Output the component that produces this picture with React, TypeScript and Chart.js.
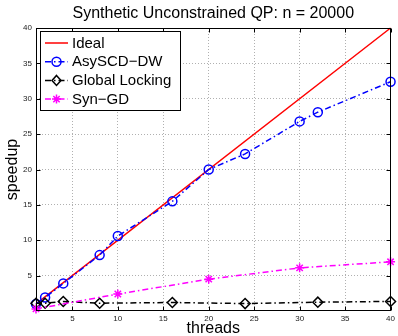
import React, { useEffect, useRef } from 'react';
import { Chart, registerables } from 'chart.js';

Chart.register(...registerables);

const titleText = 'Synthetic Unconstrained QP: n = 20000';
const xLabel = 'threads';
const yLabel = 'speedup';
const seriesNames = ['Ideal', 'AsySCD\u2212DW', 'Global Locking', 'Syn\u2212GD'];

const threadsIdeal = [1, 40];
const speedupIdeal = [1, 40];

const threadsAsy = [1, 2, 4, 8, 10, 16, 20, 24, 30, 32, 40];
const speedupAsy = [1.0, 1.9, 3.9, 7.9, 10.6, 15.5, 20.0, 22.2, 26.8, 28.1, 32.4];

const threadsLock = [1, 2, 4, 8, 16, 24, 32, 40];
const speedupLock = [1.1, 1.1, 1.35, 1.1, 1.2, 1.05, 1.25, 1.35];

const threadsSyn = [1, 10, 20, 30, 40];
const speedupSyn = [0.3, 2.4, 4.5, 6.1, 6.95];

const xTicks = [5, 10, 15, 20, 25, 30, 35, 40];
const yTicks = [5, 10, 15, 20, 25, 30, 35, 40];

const FONT = '"Liberation Sans", Arial, Helvetica, sans-serif';
const DASHDOT = [6, 3, 1.5, 3];

const zip = (xs: number[], ys: number[]) => xs.map((x, i) => ({ x, y: ys[i] }));

type Sty = { color: string; dash: number[]; marker: string };
const styles: Sty[] = [
  { color: '#ff0000', dash: [], marker: 'none' },
  { color: '#0000ff', dash: DASHDOT, marker: 'circle' },
  { color: '#000000', dash: DASHDOT, marker: 'diamond' },
  { color: '#ff00ff', dash: DASHDOT, marker: 'star' },
];

function drawMarker(ctx: CanvasRenderingContext2D, kind: string, x: number, y: number, color: string) {
  ctx.save();
  ctx.setLineDash([]);
  ctx.strokeStyle = color;
  ctx.lineWidth = 1.5;
  ctx.beginPath();
  if (kind === 'circle') {
    ctx.arc(x, y, 4.5, 0, Math.PI * 2);
  } else if (kind === 'diamond') {
    ctx.moveTo(x, y - 5);
    ctx.lineTo(x + 4.5, y);
    ctx.lineTo(x, y + 5);
    ctx.lineTo(x - 4.5, y);
    ctx.closePath();
  } else if (kind === 'star') {
    const r = 4.5;
    for (let k = 0; k < 4; k++) {
      const a = (k * Math.PI) / 4;
      ctx.moveTo(x - r * Math.cos(a), y - r * Math.sin(a));
      ctx.lineTo(x + r * Math.cos(a), y + r * Math.sin(a));
    }
  }
  if (kind !== 'none') ctx.stroke();
  ctx.restore();
}

const decorPlugin = {
  id: 'decor',
  afterDraw(chart: any) {
    const ctx: CanvasRenderingContext2D = chart.ctx;
    const { left, right, top, bottom } = chart.chartArea;
    const xs = chart.scales.x;
    const ys = chart.scales.y;
    ctx.save();
    ctx.strokeStyle = '#000';
    ctx.lineWidth = 1;
    ctx.setLineDash([]);
    const L = Math.round(left) + 0.5;
    const R = Math.round(right) - 0.5;
    const T = Math.round(top) + 0.5;
    const B = Math.round(bottom) - 0.5;
    ctx.strokeRect(L, T, R - L, B - T);
    ctx.beginPath();
    xTicks.forEach((v) => {
      const px = Math.round(xs.getPixelForValue(v)) + 0.5;
      ctx.moveTo(px, B);
      ctx.lineTo(px, B - 4);
      ctx.moveTo(px, T);
      ctx.lineTo(px, T + 4);
    });
    yTicks.forEach((v) => {
      const py = Math.round(ys.getPixelForValue(v)) + 0.5;
      ctx.moveTo(L, py);
      ctx.lineTo(L + 4, py);
      ctx.moveTo(R, py);
      ctx.lineTo(R - 4, py);
    });
    ctx.stroke();

    ctx.fillStyle = '#000';
    ctx.font = `16px ${FONT}`;
    ctx.textAlign = 'center';
    ctx.textBaseline = 'middle';
    ctx.fillText(titleText, (left + right) / 2, 14);

    ctx.fillText(xLabel, (left + right) / 2, 329);
    ctx.save();
    ctx.translate(13, (top + bottom) / 2);
    ctx.rotate(-Math.PI / 2);
    ctx.fillText(yLabel, 0, 0);
    ctx.restore();

    const lx = 40.5, ly = 31.5, lw = 140, lh = 79;
    ctx.fillStyle = '#fff';
    ctx.fillRect(lx, ly, lw, lh);
    ctx.strokeStyle = '#000';
    ctx.lineWidth = 1;
    ctx.strokeRect(lx, ly, lw, lh);
    ctx.font = `15px ${FONT}`;
    ctx.textAlign = 'left';
    ctx.textBaseline = 'middle';
    seriesNames.forEach((name, i) => {
      const y = 43 + i * 18.7;
      const s = styles[i];
      ctx.save();
      ctx.strokeStyle = s.color;
      ctx.lineWidth = 1.5;
      ctx.setLineDash(s.dash);
      ctx.beginPath();
      ctx.moveTo(45, y);
      ctx.lineTo(68, y);
      ctx.stroke();
      ctx.restore();
      drawMarker(ctx, s.marker, 56.5, y, s.color);
      ctx.fillStyle = '#000';
      ctx.fillText(name, 72, y + 0.5);
    });
    ctx.restore();
  },
};

export default function App() {
  const ref = useRef<HTMLCanvasElement | null>(null);
  useEffect(() => {
    document.body.style.margin = '0';
    const canvas = ref.current!;
    const tickFont = { size: 8, family: FONT };
    const chart = new Chart(canvas, {
      type: 'line',
      data: {
        datasets: [
          {
            label: seriesNames[0],
            data: zip(threadsIdeal, speedupIdeal),
            borderColor: '#ff0000',
            borderWidth: 1.5,
            pointRadius: 0,
            order: 4,
          },
          {
            label: seriesNames[1],
            data: zip(threadsAsy, speedupAsy),
            borderColor: '#0000ff',
            borderWidth: 1.5,
            borderDash: DASHDOT,
            pointStyle: 'circle',
            pointRadius: 4.5,
            pointBorderWidth: 1.5,
            pointBorderColor: '#0000ff',
            pointBackgroundColor: 'rgba(0,0,0,0)',
            order: 3,
          },
          {
            label: seriesNames[2],
            data: zip(threadsLock, speedupLock),
            borderColor: '#000000',
            borderWidth: 1.5,
            borderDash: DASHDOT,
            pointStyle: 'rectRot',
            pointRadius: 5,
            pointBorderWidth: 1.5,
            pointBorderColor: '#000000',
            pointBackgroundColor: 'rgba(0,0,0,0)',
            order: 2,
          },
          {
            label: seriesNames[3],
            data: zip(threadsSyn, speedupSyn),
            borderColor: '#ff00ff',
            borderWidth: 1.5,
            borderDash: DASHDOT,
            pointStyle: 'star',
            pointRadius: 4.5,
            pointBorderWidth: 1.5,
            pointBorderColor: '#ff00ff',
            pointBackgroundColor: '#ff00ff',
            order: 1,
          },
        ],
      },
      options: {
        responsive: false,
        animation: false,
        clip: false as any,
        layout: { padding: { top: 28, right: 5, left: 0, bottom: 0 } },
        plugins: { legend: { display: false }, title: { display: false }, tooltip: { enabled: false } },
        elements: { line: { tension: 0 } },
        scales: {
          x: {
            type: 'linear',
            min: 1,
            max: 40,
            afterBuildTicks: (s: any) => {
              s.ticks = xTicks.map((v) => ({ value: v }));
            },
            afterFit: (s: any) => {
              s.height = 25;
            },
            grid: { color: '#b0b0b0', lineWidth: 1, drawTicks: false },
            border: { display: false, dash: [1, 2] },
            ticks: { font: tickFont, color: '#222', padding: 3, maxRotation: 0, autoSkip: false },
          },
          y: {
            type: 'linear',
            min: 0,
            max: 40,
            afterBuildTicks: (s: any) => {
              s.ticks = yTicks.map((v) => ({ value: v }));
            },
            afterFit: (s: any) => {
              s.width = 36;
            },
            grid: { color: '#b0b0b0', lineWidth: 1, drawTicks: false },
            border: { display: false, dash: [1, 2] },
            ticks: { font: tickFont, color: '#222', padding: 4, autoSkip: false },
          },
        },
      },
      plugins: [decorPlugin],
    } as any);
    return () => chart.destroy();
  }, []);
  return (
    <div style={{ width: 398, height: 336, background: '#fff' }}>
      <canvas ref={ref} width={398} height={336} style={{ display: 'block' }} />
    </div>
  );
}
